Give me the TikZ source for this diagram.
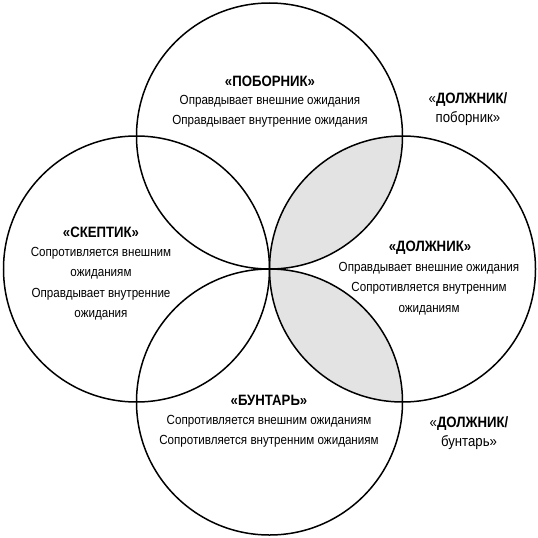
\documentclass[tikz,border=0pt]{standalone}
\usepackage{fontspec}
\setmainfont[FakeStretch=0.88]{Liberation Sans}
\usetikzlibrary{positioning}

\begin{document}
\begin{tikzpicture}[x=1pt,y=-1pt]
		\newcommand*{\rad}{133pt}
		\tikzset{
			ring/.style={draw=black, line width=1.5pt},
			lens/.style={fill=black!11},
			title/.style={font=\bfseries\fontsize{15}{20}\selectfont, inner sep=0pt},
			body/.style={font=\fontsize{13.2}{20.5}\selectfont, align=center, inner sep=0pt},
		}
		\useasboundingbox (0,0) rectangle (538,538);
		\coordinate (C) at (269.5,269);
		\coordinate (top) at (269.5,136);
		\coordinate (left) at (136.5,269);
		\coordinate (right) at (402.5,269);
		\coordinate (bottom) at (269.5,402);
		% shaded overlaps
		\begin{scope}
			\clip (right) circle[radius=\rad];
			\fill[lens] (top) circle[radius=\rad];
			\fill[lens] (bottom) circle[radius=\rad];
		\end{scope}
		\foreach \c in {top,left,right,bottom}
			\draw[ring] (\c) circle[radius=\rad];
		% labels
		\node[title] (poborT) at (270,81) {«ПОБОРНИК»};
		\node[body, anchor=north] (poborB) at (270,95) {Оправдывает внешние ожидания\\Оправдывает внутренние ожидания};
		\node[title] (skepT) at (101,232) {«СКЕПТИК»};
		\node[body, anchor=north] (skepB) at (101,247) {Сопротивляется внешним\\ожиданиям\\Оправдывает внутренние\\ожидания};
		\node[title] (dolzhT) at (430,248) {«ДОЛЖНИК»};
		\node[body, anchor=north] (dolzhB) at (429,262) {Оправдывает внешние ожидания\\Сопротивляется внутренним\\ожиданиям};
		\node[title] (buntT) at (269,400) {«БУНТАРЬ»};
		\node[body, anchor=north] (buntB) at (269,415) {Сопротивляется внешним ожиданиям\\Сопротивляется внутренним ожиданиям};
		\node[body, font=\fontsize{15}{19.5}\selectfont, anchor=north] (dpob) at (468,92) {«\textbf{ДОЛЖНИК/}\\поборник»};
		\node[body, font=\fontsize{15}{19.5}\selectfont, anchor=north] (dbunt) at (469,416) {«\textbf{ДОЛЖНИК/}\\бунтарь»};
\end{tikzpicture}
\end{document}
